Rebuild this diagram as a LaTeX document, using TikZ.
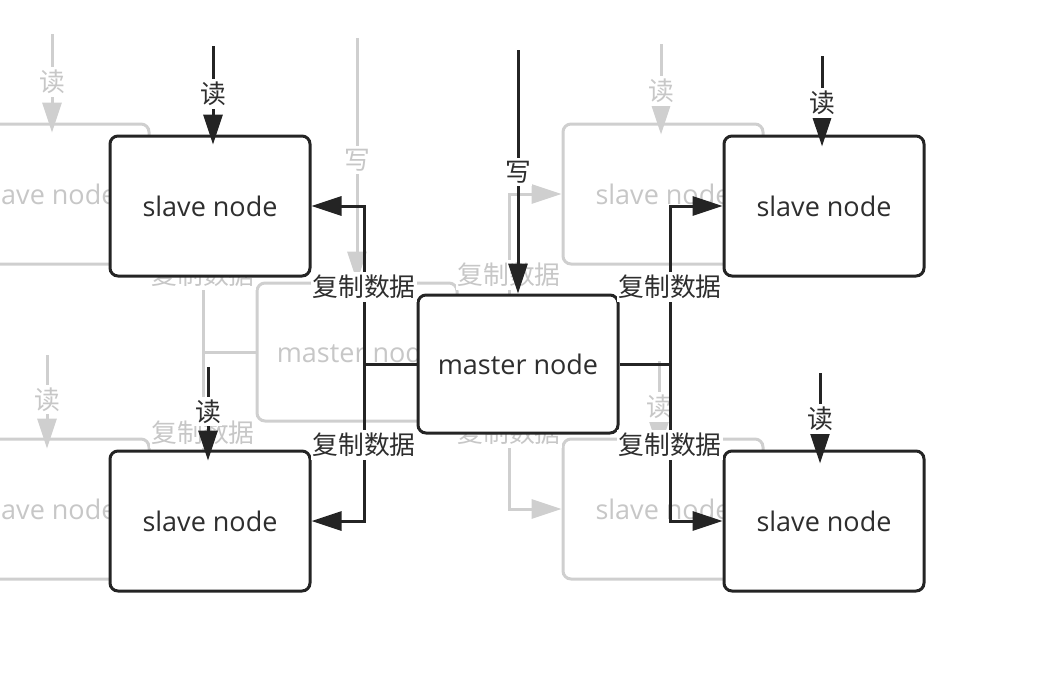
\documentclass[tikz,border=0pt]{standalone}
\usepackage{fontspec}
\setmainfont{Open Sans}
\newfontfamily\cjk{Noto Sans CJK SC}
\usetikzlibrary{arrows.meta}

% default inks; a scope may redefine them locally
\colorlet{ink}{black!86}
\colorlet{inktext}{black!82}

\tikzset{
  box/.style={draw=ink, text=inktext, fill=white, line width=3pt,
    rounded corners=8pt, minimum width=200pt, minimum height=140pt,
    font=\fontsize{27}{32}\selectfont},
  wire/.style={draw=ink, line width=3pt},
  flow/.style={wire, -{Triangle[length=30pt,width=19pt]}},
  tag/.style={fill=white, text=inktext, inner xsep=1pt, inner ysep=3pt,
    font=\cjk\fontsize{25.8}{28}\selectfont},
}

% one master node replicating to four slave nodes
\newcommand\drawcluster{%
  \node[box, minimum height=138pt] (master) at (518,364) {master node};
  \node[box] (slaveNW) at (210,206) {slave node};
  \node[box] (slaveSW) at (210,521) {slave node};
  \node[box] (slaveNE) at (824,206) {slave node};
  \node[box] (slaveSE) at (824,521) {slave node};
  % where the client arrows start
  \coordinate (wsrc) at (518,50);
  \coordinate (rNW) at (213,46);
  \coordinate (rSW) at (208,367);
  \coordinate (rNE) at (822,56);
  \coordinate (rSE) at (820,373);
  % replication spines
  \coordinate (hubW) at (364,364);
  \coordinate (hubE) at (670,364);
  \draw[wire] (master.west) -- (hubW);
  \draw[wire] (master.east) -- (hubE);
  \draw[flow] (hubW) |- (slaveNW.east) node[tag, pos=0.245] {复制数据};
  \draw[flow] (hubW) |- (slaveSW.east) node[tag, pos=0.258] {复制数据};
  \draw[flow] (hubE) |- (slaveNE.west) node[tag, pos=0.245] {复制数据};
  \draw[flow] (hubE) |- (slaveSE.west) node[tag, pos=0.258] {复制数据};
  % client write and reads
  \draw[flow] (wsrc) -- (master.north) node[tag, pos=0.5] {写};
  \draw[flow, shorten >=-10pt] (rNW) -- (slaveNW.north -| rNW) node[tag, pos=0.54] {读};
  \draw[flow, shorten >=-12pt] (rNE) -- (slaveNE.north -| rNE) node[tag, pos=0.6] {读};
  \draw[flow, shorten >=-11pt] (rSW) -- (slaveSW.north -| rSW) node[tag, pos=0.54] {读};
  \draw[flow, shorten >=-14pt] (rSE) -- (slaveSE.north -| rSE) node[tag, pos=0.6] {读};
}

\begin{document}
\begin{tikzpicture}[x=1pt, y=-1pt]
  \useasboundingbox (0,0) rectangle (1038,694);
  \clip (0,0) rectangle (1038,694);
  % faded copy being dragged
  \begin{scope}[shift={(-161,-12)}, name prefix=ghost-]
    \colorlet{ink}{black!19}
    \colorlet{inktext}{black!22}
    \drawcluster
  \end{scope}
  % the cluster itself
  \drawcluster
\end{tikzpicture}
\end{document}
